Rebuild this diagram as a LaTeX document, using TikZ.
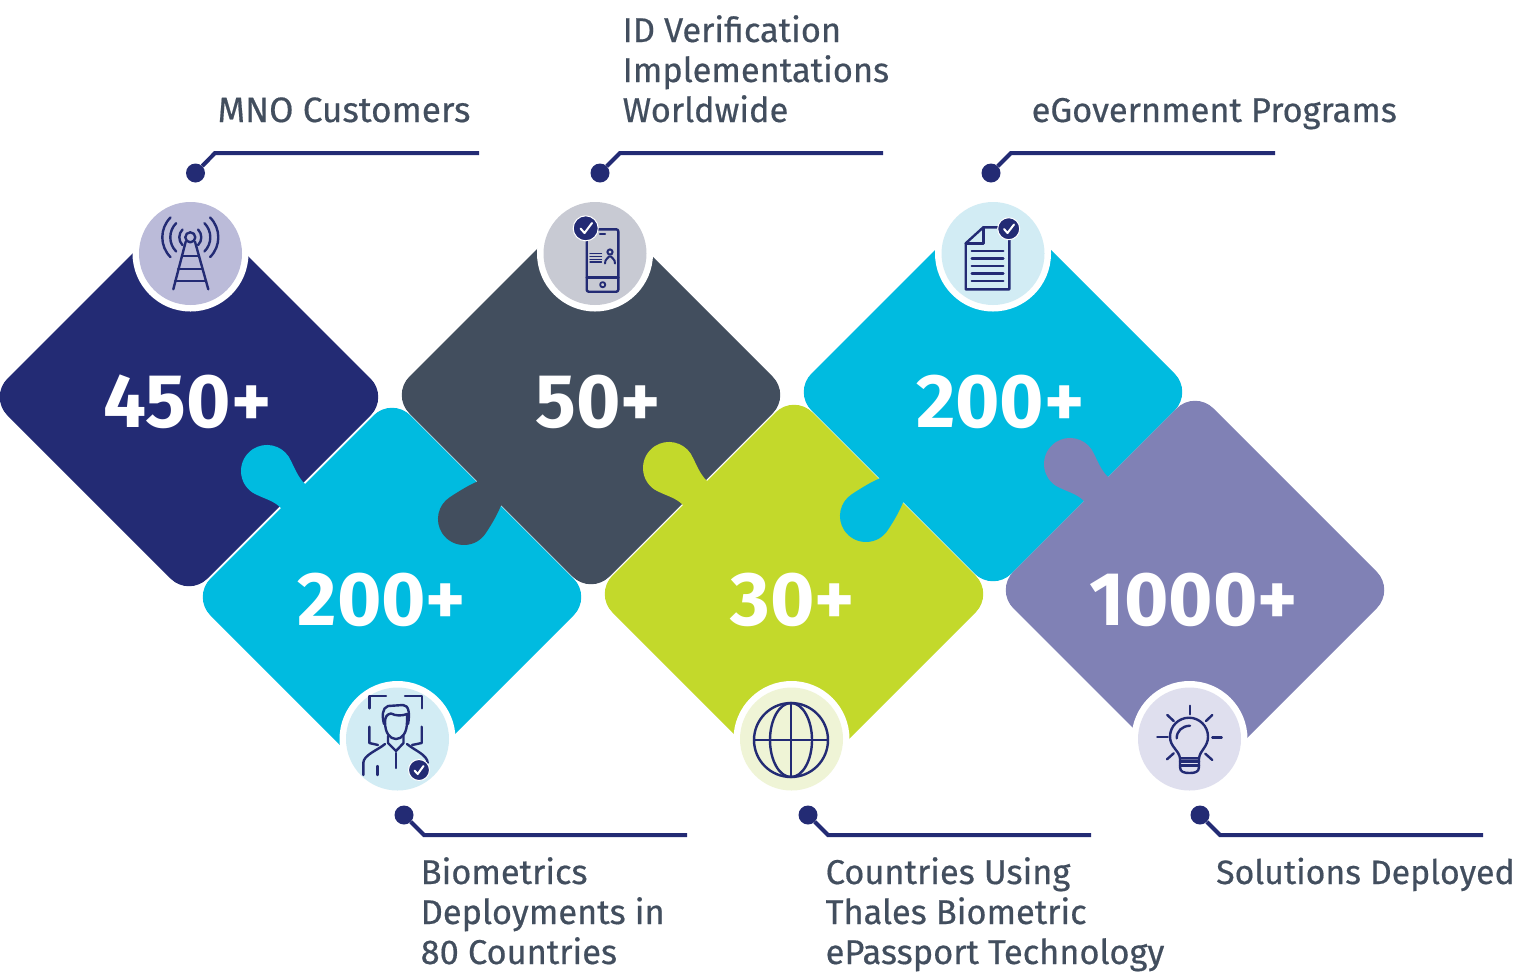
\documentclass[tikz,border=0pt]{standalone}
\usepackage{fontspec}
\setmainfont{Fira Sans}
\newfontfamily\capfont[RawFeature={embolden=0.5}]{Fira Sans}
\definecolor{navyblue}{HTML}{232B74}
\definecolor{slategrey}{HTML}{424E5E}
\definecolor{skyblue}{HTML}{00BBE0}
\definecolor{limegreen}{HTML}{C3D92B}
\definecolor{lavender}{HTML}{8081B5}
\definecolor{discmast}{HTML}{BBBBD9}
\definecolor{discphone}{HTML}{C8CAD3}
\definecolor{discsky}{HTML}{D2ECF4}
\definecolor{discglobe}{HTML}{EFF4D6}
\definecolor{discbulb}{HTML}{DFDFEE}

% the rounded square, and the two kinds of tab
\def\piecebody{[rounded corners=26pt] (-200,0) -- (0,-200) -- (200,0) -- (0,200) -- cycle [sharp corners]}
\def\tabup{(-87,113) .. controls (-95,121) and (-97,129) .. (-103.2,140.2) arc[start angle=33,end angle=237,radius=26] .. controls (-128,98) and (-119,97) .. (-111,89) -- (-80,80) -- cycle}
\def\tabdown{(-113.5,-86.5) .. controls (-121,-89.5) and (-131,-95.5) .. (-141.2,-102.2) arc[start angle=123,end angle=327,radius=26] .. controls (-98.5,-128) and (-94,-120) .. (-90,-110.5) -- (-80,-80) -- cycle}

\tikzset{
  ring/.style={circle,fill=white,minimum size=116pt,inner sep=0pt},
  disc/.style={circle,minimum size=103pt,inner sep=0pt},
  dotend/.style={circle,fill=navyblue,minimum size=19pt,inner sep=0pt},
  leader/.style={navyblue,line width=4pt},
  icon/.style={navyblue,line width=2.4pt,line cap=round,line join=round},
  count/.style={text=white,font=\fontsize{76}{76}\selectfont\bfseries,inner sep=0pt,anchor=base},
  caption/.style={text=slategrey,font=\capfont\fontsize{34.4}{40}\selectfont,inner sep=0pt,anchor=base west,align=left},
  badge/.style={circle,fill=navyblue,draw=white,line width=1pt,inner sep=0pt},
  tick/.style={white,line width=2pt,line cap=round,line join=round}
}

\begin{document}
\begin{tikzpicture}[x=1pt,y=1pt]
  \useasboundingbox (0,0) rectangle (1517,-978);

  % pieces, back to front
  \fill[navyblue,shift={(189,-397)}] \piecebody;
  \fill[skyblue,shift={(392,-597)}] \piecebody \tabup;
  \fill[slategrey,shift={(591,-395)}] \piecebody \tabdown;
  \fill[limegreen,shift={(794,-594)}] \piecebody \tabup;
  \fill[skyblue,shift={(993,-392)}] \piecebody \tabdown;
  \fill[lavender,shift={(1195,-590)}] \piecebody \tabup;

  % numbers
  \node[count] (numa) at (187.5,-427) {450+};
  \node[count] (numb) at (598.5,-427) {50+};
  \node[count] (numc) at (1000.5,-427) {200+};
  \node[count] (numd) at (382,-625) {200+};
  \node[count] (nume) at (793,-625) {30+};
  \node[count] (numf) at (1193.5,-625) {1000+};

  % discs
  \node[ring] at (190.5,-253.5) {};
  \node[disc,fill=discmast] (disca) at (190.5,-253.5) {};
  \node[ring] at (595,-253.5) {};
  \node[disc,fill=discphone] (discb) at (595,-253.5) {};
  \node[ring] at (993,-253.5) {};
  \node[disc,fill=discsky] (discc) at (993,-253.5) {};
  \node[ring] at (397.5,-739) {};
  \node[disc,fill=discsky] (discd) at (397.5,-739) {};
  \node[ring] at (791.5,-739) {};
  \node[disc,fill=discglobe] (disce) at (791.5,-739) {};
  \node[ring] at (1189.5,-739) {};
  \node[disc,fill=discbulb] (discf) at (1189.5,-739) {};

  % mast
  \draw[icon] (190.3,-237.3) circle (5);
  \draw[icon] (185.7,-241.7) -- (173.3,-289.3);
  \draw[icon] (195,-241.7) -- (208.3,-289.3);
  \draw[icon] (182,-256) -- (199,-256);
  \draw[icon] (178,-269) -- (202,-269);
  \draw[icon] (175,-280.7) -- (206,-280.7);
  \foreach \r in {11,20,28} {
    \draw[icon] (190.3,-237.3) ++(135:\r) arc[start angle=135,end angle=225,radius=\r];
    \draw[icon] (190.3,-237.3) ++(45:\r) arc[start angle=45,end angle=-45,radius=\r];
  }

  % phone
  \draw[icon,rounded corners=2pt] (586.7,-229.3) rectangle (618.3,-291.7);
  \draw[icon] (586.7,-277.3) -- (618.3,-277.3);
  \draw[icon] (600,-233.7) -- (605,-233.7);
  \draw[icon,line width=1.8pt] (602.7,-284.7) circle (2.6);
  \foreach \y in {-253.3,-256.2,-259.1,-262} {
    \draw[icon,line width=1.2pt] (590,\y) -- (601.5,\y);
  }
  \draw[icon,line width=2pt] (610,-252) circle (2.6);
  \draw[icon,line width=2pt] (605,-263.5) .. controls (605,-258.5) and (608,-259) .. (609,-256.5) -- (611,-256.5) .. controls (612,-259) and (615,-258.5) .. (615,-263.5);
  \node[badge,minimum size=25pt] (checkb) at (585.7,-228.3) {};
  \draw[tick] (580.5,-228.5) -- (584.5,-233) -- (592,-223);

  % document
  \draw[icon] (1000,-227.3) -- (983.3,-227.3) -- (965.7,-243.3) -- (965.7,-289.3) -- (1009.3,-289.3) -- (1009.3,-232);
  \draw[icon] (983.3,-227.3) -- (983.3,-243.3) -- (965.7,-243.3);
  \foreach \y in {-251,-258.3,-266,-273.3,-280.7} {
    \draw[icon] (971.7,\y) -- (1003.3,\y);
  }
  \node[badge,minimum size=22pt] (checkc) at (1008.7,-228.7) {};
  \draw[tick] (1004,-229) -- (1007.5,-233) -- (1014,-224.5);

  % face scan
  \draw[icon] (369.3,-708.3) -- (369.3,-695.7) -- (386,-695.7);
  \draw[icon] (405,-695.7) -- (421.7,-695.7) -- (421.7,-708.3);
  \draw[icon] (369.3,-726.7) -- (369.3,-743) -- (378,-745);
  \draw[icon] (421.7,-726.7) -- (421.7,-743) -- (412,-745);
  \draw[icon] (384,-724) .. controls (382,-716) and (382,-708) .. (388,-706) -- (403,-705) .. controls (409,-705) and (410,-714) .. (408,-724);
  \draw[icon] (385,-722) .. controls (385,-717) and (387,-714) .. (391,-713.5) .. controls (396,-716) and (402,-716) .. (407,-714) -- (407,-722);
  \draw[icon] (385,-722) .. controls (385,-733) and (390,-739) .. (396,-739) .. controls (402,-739) and (407,-733) .. (407,-722);
  \draw[icon] (388,-736) -- (388,-743) -- (396,-751) -- (403.5,-743) -- (403.5,-736);
  \draw[icon] (363.3,-775) -- (363.3,-763) .. controls (363.3,-755) and (378,-750) .. (385,-744);
  \draw[icon] (427.7,-763) .. controls (427.7,-755) and (414,-750) .. (407,-744);
  \draw[icon] (396,-753) -- (396,-768);
  \draw[icon] (377.3,-766) -- (377.3,-775);
  \node[badge,minimum size=21pt] (checkd) at (419,-770) {};
  \draw[tick] (414.5,-770.5) -- (417.7,-774) -- (423.5,-766);

  % globe
  \draw[icon] (791,-740) circle (37);
  \draw[icon] (791,-740) ellipse (21 and 37);
  \draw[icon] (791,-703) -- (791,-777);
  \draw[icon] (754,-740) -- (828,-740);

  % bulb
  \draw[icon] (1180,-758.3) .. controls (1179,-750) and (1170,-747) .. (1170,-736.7) arc[start angle=180,end angle=0,radius=19] .. controls (1208,-747) and (1200,-750) .. (1199,-758.3) -- cycle;
  \draw[icon] (1180,-758.3) -- (1180,-767) .. controls (1180,-772) and (1184,-773) .. (1189.5,-773) .. controls (1195,-773) and (1199,-772) .. (1199,-767) -- (1199,-758.3);
  \draw[icon] (1180,-761.5) -- (1199,-761.5);
  \draw[icon] (1180,-765.5) -- (1199,-765.5);
  \draw[icon] (1176.7,-738.3) .. controls (1176.7,-731) and (1182,-726) .. (1190,-725.7);
  \draw[icon] (1190,-705.7) -- (1190,-714.3);
  \draw[icon] (1157.3,-737) -- (1167.7,-737);
  \draw[icon] (1212.3,-737.3) -- (1221.7,-737.3);
  \draw[icon] (1167.3,-715) -- (1173.7,-721);
  \draw[icon] (1212.3,-715) -- (1206,-721);
  \draw[icon] (1167,-759.3) -- (1173.7,-753.3);
  \draw[icon] (1212.3,-760) -- (1205.3,-753.7);

  % callouts
  \node[dotend] (dota) at (195.5,-173) {};
  \coordinate (benda) at (215,-153);
  \coordinate (enda) at (479,-153);
  \draw[leader] (dota) -- (benda) -- (enda);
  \node[dotend] (dotb) at (600,-173) {};
  \coordinate (bendb) at (620,-153);
  \coordinate (endb) at (883,-153);
  \draw[leader] (dotb) -- (bendb) -- (endb);
  \node[dotend] (dotc) at (991,-173) {};
  \coordinate (bendc) at (1011,-153);
  \coordinate (endc) at (1275,-153);
  \draw[leader] (dotc) -- (bendc) -- (endc);
  \node[dotend] (dotd) at (404,-815) {};
  \coordinate (bendd) at (424,-835);
  \coordinate (endd) at (687,-835);
  \draw[leader] (dotd) -- (bendd) -- (endd);
  \node[dotend] (dote) at (808,-815) {};
  \coordinate (bende) at (828,-835);
  \coordinate (ende) at (1091,-835);
  \draw[leader] (dote) -- (bende) -- (ende);
  \node[dotend] (dotf) at (1200,-815) {};
  \coordinate (bendf) at (1220,-835);
  \coordinate (endf) at (1483,-835);
  \draw[leader] (dotf) -- (bendf) -- (endf);

  % captions
  \node[caption] (capa) at (217.5,-122) {\fontsize{35.2}{40}\selectfont MNO Customers};
  \node[caption] (capb) at (622.5,-122) {ID Verification\\Implementations\\Worldwide};
  \node[caption] (capc) at (1031.5,-122) {eGovernment Programs};
  \node[caption] (capd) at (420.5,-964) {Biometrics\\Deployments in\\80 Countries};
  \node[caption] (cape) at (825.5,-964) {Countries Using\\Thales Biometric\\ePassport Technology};
  \node[caption] (capf) at (1216,-884) {\fontsize{33.8}{40}\selectfont Solutions Deployed};
\end{tikzpicture}
\end{document}
